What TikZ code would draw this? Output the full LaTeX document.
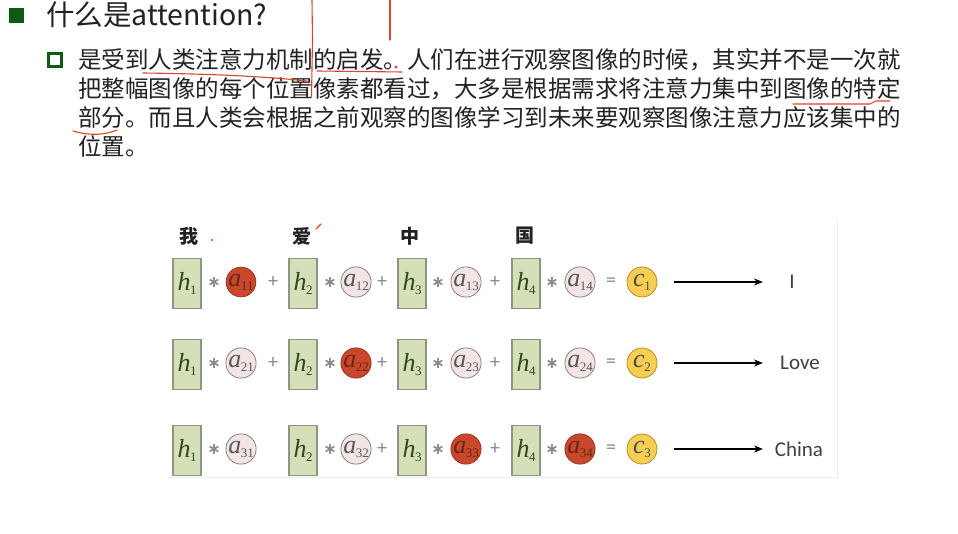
\documentclass[tikz,border=0pt]{standalone}
\usepackage{fontspec}
\newfontfamily\cjk{Noto Sans CJK SC}
\newfontfamily\carl{Carlito}
\newfontfamily\tms{Liberation Serif}
\newfontfamily\djv{DejaVu Sans}
\usetikzlibrary{arrows.meta}
\definecolor{bulgreen}{HTML}{0E5A12}
\definecolor{boxfill}{HTML}{D6E0B8}
\definecolor{boxdraw}{HTML}{8C9682}
\definecolor{hcol}{HTML}{2E4A1C}
\definecolor{lightfill}{HTML}{F3E5E5}
\definecolor{lightdraw}{HTML}{8A8080}
\definecolor{redfill}{HTML}{C9472B}
\definecolor{reddraw}{HTML}{983722}
\definecolor{yelfill}{HTML}{F6CE52}
\definecolor{yeldraw}{HTML}{B38F2A}
\definecolor{opcol}{HTML}{8A8A8A}
\definecolor{txt}{HTML}{222222}
\definecolor{annot}{HTML}{D9442A}
\definecolor{edge}{HTML}{EDEDED}
\newcommand{\vsym}[2]{{\itshape #1}\kern-0.5pt{\fontsize{13}{13}\selectfont\raisebox{-4pt}{#2}}}
\tikzset{
  hbox/.style={draw=boxdraw, fill=boxfill, line width=1.2pt, minimum width=28pt, minimum height=50pt, inner sep=0pt, font=\tms\fontsize{26}{26}\selectfont, text=hcol},
  acirc/.style={circle, draw=lightdraw, fill=lightfill, line width=0.8pt, minimum size=29pt, inner sep=0pt, font=\tms\fontsize{26}{26}\selectfont, text=black!65},
  ared/.style={acirc, draw=reddraw, fill=redfill, text=reddraw!70!black},
  ccirc/.style={circle, draw=yeldraw, fill=yelfill, line width=0.8pt, minimum size=30pt, inner sep=0pt, font=\tms\fontsize{26}{26}\selectfont, text=black!70},
  opnode/.style={inner sep=0pt, text=opcol, font=\carl\fontsize{20}{20}\selectfont},
  starnode/.style={inner sep=0pt, text=opcol, font=\djv\bfseries\fontsize{16}{16}\selectfont},
  collab/.style={inner sep=0pt, text=txt, font=\cjk\bfseries\fontsize{19}{19}\selectfont},
  outlab/.style={inner sep=0pt, text=black!75, font=\carl\fontsize{21}{21}\selectfont},
  bodyline/.style={anchor=west, inner sep=0pt, text=txt, font=\cjk\fontsize{23.5}{23.5}\selectfont},
  outarrow/.style={-{Stealth[length=9pt,width=7pt]}, line width=1.5pt, black},
  annotline/.style={annot, line width=1.1pt, line cap=round, line join=round}
}
\begin{document}
\begin{tikzpicture}[x=1pt, y=-1pt]
\useasboundingbox (0,0) rectangle (958,534);
\fill[white] (0,0) rectangle (958,534);
% faint figure edges
\draw[edge, line width=0.8pt] (837,220) -- (837,477) -- (168,477);
% title
\node[fill=bulgreen, minimum size=15pt, inner sep=0pt] (b1) at (16,16) {};
\node[anchor=west, inner sep=0pt, text=txt, font=\cjk\fontsize{28.5}{28.5}\selectfont] (title) at (46,15) {什么是attention?};
% sub bullet
\node[draw=bulgreen, line width=3pt, minimum size=13pt, inner sep=0pt] (b2) at (54.5,60.5) {};
\node[bodyline] (l1) at (78,60) {是受到人类注意力机制的启发。人们在进行观察图像的时候，其实并不是一次就};
\node[bodyline] (l2) at (78,89) {把整幅图像的每个位置像素都看过，大多是根据需求将注意力集中到图像的特定};
\node[bodyline] (l3) at (78,118) {部分。而且人类会根据之前观察的图像学习到未来要观察图像注意力应该集中的};
\node[bodyline] (l4) at (78,146) {位置。};
% column labels
\node[collab] (w1) at (189,236) {我};
\node[collab] (w2) at (302,236) {爱};
\node[collab] (w3) at (410,236) {中};
\node[collab] (w4) at (525,236) {国};
% rows
\foreach \r/\y/\ca/\cb/\cc/\cd/\lab/\lx in {1/282/ared/acirc/acirc/acirc/I/792, 2/363/acirc/ared/acirc/acirc/Love/800, 3/449/acirc/acirc/ared/ared/China/799}{
  \node[hbox] (h\r1) at (187,\y+1.5) {\vsym{h}{1}};
  \node[starnode] (m\r1) at (214,\y) {∗};
  \node[\ca] (a\r1) at (241,\y) {\vsym{a}{\r1}};
  \node[hbox] (h\r2) at (303,\y+1.5) {\vsym{h}{2}};
  \node[starnode] (m\r2) at (330,\y) {∗};
  \node[\cb] (a\r2) at (356,\y) {\vsym{a}{\r2}};
  \node[opnode] (p\r2) at (382,\y) {+};
  \node[hbox] (h\r3) at (412,\y+1.5) {\vsym{h}{3}};
  \node[starnode] (m\r3) at (438,\y) {∗};
  \node[\cc] (a\r3) at (466,\y) {\vsym{a}{\r3}};
  \node[opnode] (p\r3) at (495,\y) {+};
  \node[hbox] (h\r4) at (526,\y+1.5) {\vsym{h}{4}};
  \node[starnode] (m\r4) at (552,\y) {∗};
  \node[\cd] (a\r4) at (580,\y) {\vsym{a}{\r4}};
  \node[opnode] (e\r) at (611,\y) {=};
  \node[ccirc] (c\r) at (642,\y) {\vsym{c}{\r}};
  \coordinate (s\r) at (674,\y);
  \coordinate (t\r) at (763,\y);
  \draw[outarrow] (s\r) -- (t\r);
  \node[outlab] (o\r) at (\lx,\y) {\lab};
}
\node[opnode] (p11) at (273,282) {+};
\node[opnode] (p21) at (273,363) {+};
% red annotations
\draw[annotline] (312,0) -- (312.5,40) -- (311.5,97);
\draw[annotline] (390,0) -- (390,40);
\draw[annotline] (143,73) .. controls (220,74) and (270,77) .. (307,81);
\draw[annotline] (317,71) -- (402,72);
\fill[annot] (396,67) circle (1.6pt);
\draw[annotline] (73,131) .. controls (90,136) and (105,135) .. (117,130);
\draw[annotline] (793,104) -- (870,104) -- (876,101) -- (890,101);
\draw[annotline] (316,229) -- (321,224);
\fill[annot] (212,240) circle (1.2pt);
\end{tikzpicture}
\end{document}
